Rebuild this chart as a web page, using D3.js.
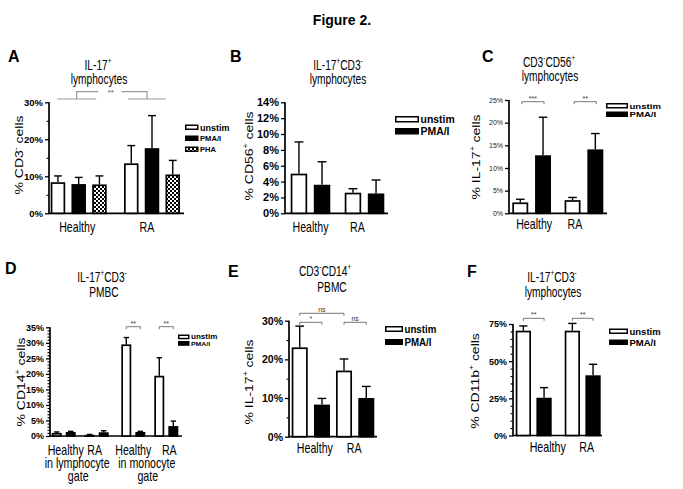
<!DOCTYPE html>
<html><head><meta charset="utf-8">
<script src="https://cdn.jsdelivr.net/npm/d3@7"></script>
<style>body{margin:0;background:#fff}svg{display:block}</style>
</head><body><script>
// ================= DATA =================
const groups = ["Healthy", "RA"];
const series3 = ["unstim", "PMA/I", "PHA"];
const series2 = ["unstim", "PMA/I"];

// Panel A: % CD3- cells (IL-17+ lymphocytes)
const A_unstim = [8.4, 13.5],  A_unstimErr = [1.7, 4.8];
const A_pma    = [7.9, 17.6],  A_pmaErr    = [1.8, 8.8];
const A_pha    = [7.8, 10.5],  A_phaErr    = [2.3, 3.8];
const A_ticks  = [0, 10, 20, 30];

// Panel B: % CD56+ cells (IL-17+CD3- lymphocytes)
const B_unstim = [5.0, 2.6],  B_unstimErr = [4.0, 0.5];
const B_pma    = [3.6, 2.5],  B_pmaErr    = [2.9, 1.7];
const B_ticks  = [0, 2, 4, 6, 8, 10, 12, 14];

// Panel C: % IL-17+ cells (CD3-CD56+ lymphocytes)
const C_unstim = [2.4, 2.9],   C_unstimErr = [0.7, 0.6];
const C_pma    = [12.8, 14.1], C_pmaErr    = [8.4, 3.5];
const C_ticks  = [0, 5, 10, 15, 20, 25];
const C_sig    = ["***", "**"];

// Panel D: % CD14+ cells (IL-17+CD3- PMBC)
const D_groups = ["Healthy lymphocyte", "RA lymphocyte", "Healthy monocyte", "RA monocyte"];
const D_labels = ["Healthy", "RA", "Healthy", "RA"];
const D_gates  = ["in lymphocyte", "in monocyte"];
const D_unstim = [1.0, 0.4, 29.5, 19.4], D_unstimErr = [0.3, 0.1, 2.2, 5.8];
const D_pma    = [1.3, 1.2, 1.3, 3.2],   D_pmaErr    = [0.2, 0.5, 0.2, 1.6];
const D_ticks  = [0, 5, 10, 15, 20, 25, 30, 35];
const D_sig    = ["**", "**"];

// Panel E: % IL-17+ cells (CD3-CD14+ PBMC)
const E_unstim = [23.1, 17.1], E_unstimErr = [5.5, 3.0];
const E_pma    = [8.3, 10.0],  E_pmaErr    = [1.6, 3.0];
const E_ticks  = [0, 10, 20, 30];
const E_sig    = ["*", "ns", "ns"];

// Panel F: % CD11b+ cells (IL-17+CD3- lymphocytes)
const F_unstim = [70.5, 70.5], F_unstimErr = [3.2, 4.9];
const F_pma    = [25.4, 40.5], F_pmaErr    = [6.8, 7.4];
const F_ticks  = [0, 25, 50, 75];
const F_sig    = ["**", "**"];

// ================= DRAWING =================
const FONT = '"Liberation Sans", Arial, Helvetica, sans-serif';
const svg = d3.select("body").append("svg")
  .attr("width", 683).attr("height", 489)
  .attr("font-family", FONT);
svg.append("rect").attr("width", 683).attr("height", 489).attr("fill", "#fff");

const defs = svg.append("defs");
const pat = defs.append("pattern").attr("id", "check")
  .attr("patternUnits", "userSpaceOnUse").attr("width", 4).attr("height", 4);
pat.append("rect").attr("width", 4).attr("height", 4).attr("fill", "#fff");
pat.append("rect").attr("width", 2).attr("height", 2).attr("fill", "#000");
pat.append("rect").attr("x", 2).attr("y", 2).attr("width", 2).attr("height", 2).attr("fill", "#000");

const FILLS = {"unstim": "#fff", "PMA/I": "#000", "PHA": "url(#check)"};
const TITLE = {size: 15, sx: 0.68};
const XLAB = {size: 14, sx: 0.76};
const YLAB = {size: 14, sx: 0.8};

function appendTokens(t, tokens, size, first) {
  let shifted = false;
  (Array.isArray(tokens) ? tokens : [tokens]).forEach((tok, k) => {
    let ts;
    if (typeof tok === "string") {
      ts = t.append("tspan").text(tok);
      if (shifted) { ts.attr("dy", size * 0.42); shifted = false; }
    } else {
      ts = t.append("tspan").attr("dy", -size * 0.42).attr("font-size", size * 0.62).text(tok.sup);
      shifted = true;
    }
    if (k === 0 && first) first(ts);
  });
  return shifted;
}

function addText(g, x, y, tokens, o = {}) {
  const size = o.size || 12, sx = o.sx || 1;
  const tf = o.rotate
    ? `translate(${x},${y}) rotate(-90) scale(1,${sx})`
    : `translate(${x},${y}) scale(${sx},1)`;
  const t = g.append("text").attr("transform", tf)
    .attr("font-size", size).attr("font-weight", o.weight || "normal")
    .attr("text-anchor", o.anchor || "start").attr("fill", o.fill || "#000");
  appendTokens(t, tokens, size);
  return t;
}

// multi-line centred text in one element (lines: array of token arrays; xs: centres; ys: baselines)
function addLines(g, lines, xs, ys, o) {
  const size = o.size, sx = o.sx;
  const t = g.append("text").attr("transform", `translate(${xs[0]},${ys[0]}) scale(${sx},1)`)
    .attr("font-size", size).attr("text-anchor", "middle").attr("fill", "#000");
  let prevShift = false;
  lines.forEach((line, k) => {
    const dx = (xs[k] - xs[0]) / sx;
    const baseDy = ys[k] - ys[0];
    const wasShifted = prevShift;
    prevShift = appendTokens(t, line, size, ts => {
      if (k > 0) {
        ts.attr("x", dx).attr("y", baseDy + (typeof line[0] === "string" ? 0 : -size * 0.42)).attr("dy", null);
      }
    });
  });
  return t;
}

function drawPanel(p) {
  const g = svg.append("g");
  const y = d3.scaleLinear().domain([0, p.ymax]).range([p.y0, p.yTop]);
  let gx, gw;
  if (p.gap !== undefined) {
    const lin = d3.scaleLinear().domain([0, p.groups.length - 1 + p.gap]).range([p.c0, p.c1]);
    gw = p.gw;
    gx = (d, i) => lin(i + (i >= p.gapAfter ? p.gap : 0)) - gw / 2;
  } else {
    const band = d3.scaleBand().domain(p.groups).range(p.band).paddingInner(p.pg).paddingOuter(0);
    gw = band.bandwidth();
    gx = (d) => band(d);
  }
  const inner = d3.scaleBand().domain(p.series).range([0, gw]).paddingInner(p.pi).paddingOuter(0);
  const bw = inner.bandwidth();
  const barCx = (i, j) => gx(p.groups[i], i) + inner(p.series[j]) + bw / 2;

  // y axis
  const ag = g.append("g").attr("transform", `translate(${p.x0},0)`)
    .call(d3.axisLeft(y).tickValues(p.major).tickSize(4).tickPadding(2).tickFormat(d => d + "%"));
  ag.attr("font-family", FONT).attr("font-size", p.tickFont).attr("font-weight", p.tickWeight || "bold");
  ag.select(".domain").remove();
  ag.selectAll(".tick line").attr("stroke", "#000").attr("stroke-width", 1.3);
  ag.selectAll(".tick text").attr("fill", p.tickColor || "#000");
  if (p.minor) {
    const mg = g.append("g").attr("transform", `translate(${p.x0},0)`)
      .call(d3.axisLeft(y).tickValues(p.minor).tickSize(2.5).tickFormat(""));
    mg.select(".domain").remove();
    mg.selectAll(".tick line").attr("stroke", "#000").attr("stroke-width", 1.1);
  }
  g.append("line").attr("x1", p.x0).attr("x2", p.x0).attr("y1", p.y0 + 0.8).attr("y2", p.yTop)
    .attr("stroke", "#000").attr("stroke-width", 1.7);
  g.append("line").attr("x1", p.x0).attr("x2", p.x1).attr("y1", p.y0).attr("y2", p.y0)
    .attr("stroke", "#000").attr("stroke-width", 1.7);

  // bars + error bars
  const sw = 1.7;
  p.series.forEach((s, j) => {
    p.groups.forEach((gname, i) => {
      const v = p.values[j][i], e = p.errs[j][i];
      const x = gx(gname, i) + inner(s);
      const cx = x + bw / 2;
      g.append("line").attr("x1", cx).attr("x2", cx).attr("y1", y(v)).attr("y2", y(v + e))
        .attr("stroke", "#000").attr("stroke-width", 1.4);
      g.append("line").attr("x1", cx - bw * 0.27).attr("x2", cx + bw * 0.27)
        .attr("y1", y(v + e)).attr("y2", y(v + e))
        .attr("stroke", "#000").attr("stroke-width", 1.4);
      g.append("rect").attr("x", x + sw / 2).attr("y", y(v) + sw / 2)
        .attr("width", bw - sw).attr("height", Math.max(0, p.y0 - y(v) - sw / 2))
        .attr("fill", FILLS[s]).attr("stroke", "#000").attr("stroke-width", sw);
    });
  });

  // x labels
  if (p.xlabels) {
    p.groups.forEach((gname, i) => {
      const cx = gx(gname, i) + gw / 2 + (p.labelDx ? p.labelDx[i] : 0);
      addText(g, cx, p.xlabY, p.xlabels[i], {...XLAB, anchor: "middle"});
    });
  }

  // y label
  addText(g, p.ylab[0], p.ylab[1], p.ylabText, {...YLAB, anchor: "middle", rotate: true});

  // title (two lines, one text element)
  addLines(g, p.title, p.titleX, p.titleY, TITLE);

  // panel letter
  addText(svg, p.letter[1], p.letter[2], p.letter[0], {size: 16, weight: "bold"});

  // legend
  const L = p.legend;
  p.series.forEach((s, j) => {
    const yy = L.y + j * L.step;
    const fs = L.fonts ? L.fonts[j] : L.font;
    g.append("rect").attr("x", L.x + 0.75).attr("y", yy + 0.75).attr("width", L.w - 1.5).attr("height", L.h - 1.5)
      .attr("fill", FILLS[s]).attr("stroke", "#000").attr("stroke-width", 1.5);
    addText(g, L.x + L.w + 1.5, yy + L.h / 2 + fs * 0.36, s,
      {size: fs, weight: "bold", sx: L.sx || 1});
  });

  return {g, y, barCx, gx, gw};
}

function bracket(g, xa, xb, yy, label, o = {}) {
  const td = o.td === undefined ? 2.5 : o.td;
  g.append("path").attr("d", `M${xa},${yy + td}V${yy}H${xb}V${yy + td}`)
    .attr("fill", "none").attr("stroke", o.stroke || "#555").attr("stroke-width", o.sw || 0.8);
  addText(g, (xa + xb) / 2, yy - 1.2, label, {size: o.size || 7.5, anchor: "middle", fill: o.fill || "#333"});
}

// ---- Figure title ----
addText(svg, 342, 25, "Figure 2.", {size: 14, weight: "bold", anchor: "middle"});

// ---- Panel A ----
const pA = drawPanel({
  groups, series: series3,
  values: [A_unstim, A_pma, A_pha], errs: [A_unstimErr, A_pmaErr, A_phaErr],
  x0: 49, x1: 184, y0: 213.3, yTop: 102.3, ymax: 30,
  major: A_ticks, minor: [5, 15, 25], tickFont: 9.5,
  band: [50.7, 180], pg: 0.236, pi: 0.3,
  xlabels: groups, xlabY: 232, labelDx: [-1.5, -5],
  ylab: [23, 155], ylabText: ["% CD3", {sup: "-"}, " cells"],
  title: [["IL-17", {sup: "+"}], ["lymphocytes"]], titleX: [98, 99], titleY: [70, 83.5],
  letter: ["A", 8, 62],
  legend: {x: 185, y: 124.5, step: 11, w: 13.5, h: 5.5, font: 8.5, fonts: [9.5, 8, 8], sx: 0.95}
});
{
  const g = pA.g, yB = 99, yT = 91.7;
  const cH = pA.gx("Healthy") + pA.gw / 2 - 2, cR = pA.gx("RA") + pA.gw / 2 - 5;
  const st = {stroke: "#999", sw: 1.2};
  g.append("path").attr("d", `M${cH - 19.5},${yB}H${cH + 19.5}M${cH},${yB}V${yT}H${cH + 21.5}`)
    .attr("fill", "none").attr("stroke", st.stroke).attr("stroke-width", st.sw);
  g.append("path").attr("d", `M${cR - 25.5},${yT}H${cR}V${yB}M${cR - 19},${yB}H${cR + 19}`)
    .attr("fill", "none").attr("stroke", st.stroke).attr("stroke-width", st.sw);
  addText(g, (cH + cR) / 2 - 1, yT + 3, "**", {size: 8, anchor: "middle", fill: "#555"});
}

// ---- Panel B ----
drawPanel({
  groups, series: series2,
  values: [B_unstim, B_pma], errs: [B_unstimErr, B_pmaErr],
  x0: 285, x1: 388, y0: 213.3, yTop: 102.3, ymax: 14,
  major: B_ticks, tickFont: 11,
  band: [290.7, 384.3], pg: 0.267, pi: 0.286,
  xlabels: groups, xlabY: 232, labelDx: [0, -7],
  ylab: [253, 156], ylabText: ["% CD56", {sup: "+"}, " cells"],
  title: [["IL-17", {sup: "+"}, "CD3", {sup: "-"}], ["lymphocytes"]], titleX: [338, 338], titleY: [70, 83.5],
  letter: ["B", 230, 62],
  legend: {x: 395, y: 116, step: 12, w: 24, h: 6.5, font: 11, sx: 0.95}
});

// ---- Panel C ----
const pC = drawPanel({
  groups, series: series2,
  values: [C_unstim, C_pma], errs: [C_unstimErr, C_pmaErr],
  x0: 509, x1: 607, y0: 213.3, yTop: 100, ymax: 25,
  major: C_ticks, tickFont: 7, tickWeight: "normal", tickColor: "#222",
  band: [512.3, 603.3], pg: 0.26, pi: 0.3,
  xlabels: groups, xlabY: 229, labelDx: [2.5, -9],
  ylab: [480, 157], ylabText: ["% IL-17", {sup: "+"}, " cells"],
  title: [["CD3", {sup: "-"}, "CD56", {sup: "+"}], ["lymphocytes"]], titleX: [549, 550], titleY: [67, 81],
  letter: ["C", 482, 62],
  legend: {x: 606, y: 103, step: 8.5, w: 22, h: 5.5, font: 8, sx: 1.2}
});
C_sig.forEach((s, i) => bracket(pC.g, pC.barCx(i, 0) + 1.5, pC.barCx(i, 1) + 1, 101.7, s, {size: 7}));

// ---- Panel D ----
const pD = drawPanel({
  groups: D_groups, series: series2,
  values: [D_unstim, D_pma], errs: [D_unstimErr, D_pmaErr],
  x0: 50, x1: 182, y0: 436, yTop: 327.3, ymax: 35,
  major: D_ticks, minor: d3.range(1, 35).filter(v => v % 5 !== 0), tickFont: 9,
  c0: 63.7, c1: 166.3, gap: 0.11, gapAfter: 2, gw: 24, pi: 0.29,
  ylab: [25, 382], ylabText: ["% CD14", {sup: "+"}, " cells"],
  title: [["IL-17", {sup: "+"}, "CD3", {sup: "-"}], ["PMBC"]], titleX: [102, 104], titleY: [282, 297.5],
  letter: ["D", 5, 274],
  legend: {x: 178, y: 334.5, step: 6.5, w: 11.5, h: 4.8, font: 7, fonts: [7, 6], sx: 1.15}
});
{
  const g = pD.g;
  D_groups.forEach((d, i) => {
    addText(g, pD.gx(d, i) + pD.gw / 2 + [2, -2, 0, 3][i], 455, D_labels[i], {...XLAB, anchor: "middle"});
  });
  D_gates.forEach((txt, k) => {
    const cx = (pD.gx(D_groups[2 * k], 2 * k) + pD.gx(D_groups[2 * k + 1], 2 * k + 1) + pD.gw) / 2 - 3;
    addLines(g, [[txt], ["gate"]], [cx, cx + 1], [468, 481], XLAB);
  });
  D_sig.forEach((s, k) => bracket(g, pD.barCx(k + 2, 0), pD.barCx(k + 2, 1), 326.7, s, {size: 7}));
}

// ---- Panel E ----
const pE = drawPanel({
  groups, series: series2,
  values: [E_unstim, E_pma], errs: [E_unstimErr, E_pmaErr],
  x0: 289, x1: 377, y0: 436.7, yTop: 320.7, ymax: 30,
  major: E_ticks, minor: [5, 15, 25], tickFont: 10.5,
  band: [291.7, 374.3], pg: 0.135, pi: 0.28,
  xlabels: groups, xlabY: 453, labelDx: [4, -1],
  ylab: [253, 382], ylabText: ["% IL-17", {sup: "+"}, " cells"],
  title: [["CD3", {sup: "-"}, "CD14", {sup: "+"}], ["PBMC"]], titleX: [325, 332], titleY: [276, 292.5],
  letter: ["E", 228, 277],
  legend: {x: 385, y: 326, step: 13, w: 18, h: 6, font: 10, sx: 0.97}
});
{
  const g = pE.g;
  bracket(g, pE.barCx(0, 0), pE.barCx(1, 0), 313.3, E_sig[1], {size: 7});
  bracket(g, pE.barCx(0, 0), pE.barCx(0, 1), 322.3, E_sig[0], {size: 7});
  bracket(g, pE.barCx(1, 0), pE.barCx(1, 1), 322.3, E_sig[2], {size: 7});
}

// ---- Panel F ----
const pF = drawPanel({
  groups, series: series2,
  values: [F_unstim, F_pma], errs: [F_unstimErr, F_pmaErr],
  x0: 513, x1: 602, y0: 435.5, yTop: 324, ymax: 75,
  major: F_ticks, minor: d3.range(5, 75, 5).filter(v => v % 25 !== 0), tickFont: 9,
  band: [515.7, 600.7], pg: 0.265, pi: 0.26,
  xlabels: groups, xlabY: 452, labelDx: [14, 4],
  ylab: [479, 381], ylabText: ["% CD11b", {sup: "+"}, " cells"],
  title: [["IL-17", {sup: "+"}, "CD3", {sup: "-"}], ["lymphocytes"]], titleX: [552, 553], titleY: [282, 297],
  letter: ["F", 467, 277],
  legend: {x: 609, y: 328.5, step: 11, w: 19, h: 5.5, font: 9.5, sx: 1.0}
});
F_sig.forEach((s, i) => bracket(pF.g, pF.barCx(i, 0), pF.barCx(i, 1), 318.3, s, {size: 7}));
</script></body></html>
